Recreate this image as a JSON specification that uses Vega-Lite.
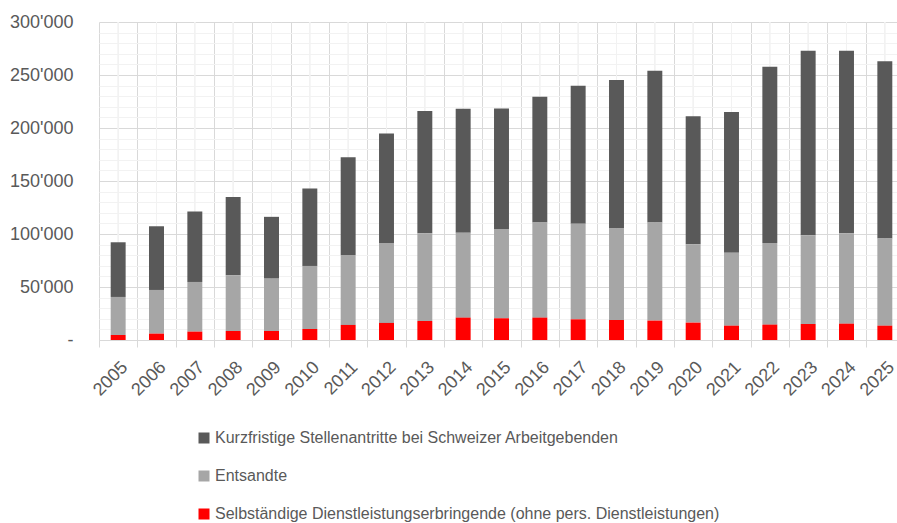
{
  "$schema": "https://vega.github.io/schema/vega-lite/v6.json",
  "width": 805,
  "height": 318,
  "autosize": {"type": "none"},
  "padding": {"left": 99, "top": 22, "right": -7, "bottom": 183},
  "config": {"font": "Liberation Sans", "view": {"stroke": null}},
  "data": {
    "values": [
      {"year": "2005", "k": 51600, "e": 35900, "s": 4700},
      {"year": "2006", "k": 60100, "e": 41200, "s": 6000},
      {"year": "2007", "k": 66400, "e": 46900, "s": 7900},
      {"year": "2008", "k": 73900, "e": 52600, "s": 8500},
      {"year": "2009", "k": 58300, "e": 49400, "s": 8500},
      {"year": "2010", "k": 73000, "e": 59500, "s": 10400},
      {"year": "2011", "k": 92200, "e": 66100, "s": 14200},
      {"year": "2012", "k": 103300, "e": 75500, "s": 16100},
      {"year": "2013", "k": 115300, "e": 82800, "s": 17900},
      {"year": "2014", "k": 117100, "e": 80000, "s": 21100},
      {"year": "2015", "k": 113700, "e": 84300, "s": 20500},
      {"year": "2016", "k": 118700, "e": 89700, "s": 21100},
      {"year": "2017", "k": 130300, "e": 90100, "s": 19500},
      {"year": "2018", "k": 140100, "e": 86200, "s": 18900},
      {"year": "2019", "k": 143200, "e": 92500, "s": 18300},
      {"year": "2020", "k": 120900, "e": 73900, "s": 16400},
      {"year": "2021", "k": 132800, "e": 68700, "s": 13500},
      {"year": "2022", "k": 166200, "e": 77100, "s": 14500},
      {"year": "2023", "k": 174100, "e": 83700, "s": 15100},
      {"year": "2024", "k": 172200, "e": 85300, "s": 15400},
      {"year": "2025", "k": 167200, "e": 82200, "s": 13500}
    ]
  },
  "transform": [
    {"fold": ["k", "e", "s"], "as": ["cat", "v"]},
    {"calculate": "indexof(['s', 'e', 'k'], datum.cat)", "as": "ord"}
  ],
  "encoding": {
    "x": {
      "field": "year",
      "type": "nominal",
      "scale": {"paddingInner": 0, "paddingOuter": 0},
      "axis": {
        "title": null,
        "labelAngle": -45,
        "labelFontSize": 18,
        "labelColor": "#595959",
        "tickBand": "extent",
        "grid": true,
        "gridColor": "#d9d9d9",
        "domainColor": "#d9d9d9",
        "tickColor": "#d9d9d9",
        "tickSize": 7,
        "labelPadding": 11
      }
    }
  },
  "layer": [
    {
      "mark": {"type": "rule", "color": "#f2f2f2", "strokeWidth": 1},
      "encoding": {}
    },
    {
      "mark": {"type": "bar", "width": {"band": 0.39}},
      "encoding": {
        "y": {
          "field": "v",
          "type": "quantitative",
          "stack": "zero",
          "scale": {"domain": [0, 300000], "nice": false},
          "axis": {
            "title": null,
            "values": [0, 10000, 20000, 30000, 40000, 50000, 60000, 70000, 80000, 90000, 100000, 110000, 120000, 130000, 140000, 150000, 160000, 170000, 180000, 190000, 200000, 210000, 220000, 230000, 240000, 250000, 260000, 270000, 280000, 290000, 300000],
            "labelExpr": "datum.value % 50000 !== 0 ? '' : datum.value === 0 ? '-\u2007' : replace(format(datum.value, ','), ',', \"'\")",
            "labelFontSize": 18,
            "labelColor": "#595959",
            "ticks": false,
            "domain": false,
            "labelPadding": 26,
            "gridColor": {"condition": {"test": "datum.value % 50000 === 0", "value": "#d9d9d9"}, "value": "#f2f2f2"}
          }
        },
        "color": {
          "field": "cat",
          "type": "nominal",
          "scale": {
            "domain": ["k", "e", "s"],
            "range": ["#595959", "#a6a6a6", "#ff0000"]
          },
          "legend": {
            "orient": "none",
            "legendX": 97,
            "legendY": 408,
            "direction": "vertical",
            "title": null,
            "symbolType": "square",
            "symbolSize": 121,
            "symbolStrokeWidth": 0,
            "labelFontSize": 16,
            "labelColor": "#595959",
            "labelLimit": 0,
            "rowPadding": 22,
            "symbolOffset": 0,
            "labelOffset": 3,
            "padding": 0,
            "labelExpr": "datum.value === 'k' ? 'Kurzfristige Stellenantritte bei Schweizer Arbeitgebenden' : datum.value === 'e' ? 'Entsandte' : 'Selbständige Dienstleistungserbringende (ohne pers. Dienstleistungen)'"
          }
        },
        "order": {"field": "ord", "type": "quantitative"}
      }
    }
  ]
}
